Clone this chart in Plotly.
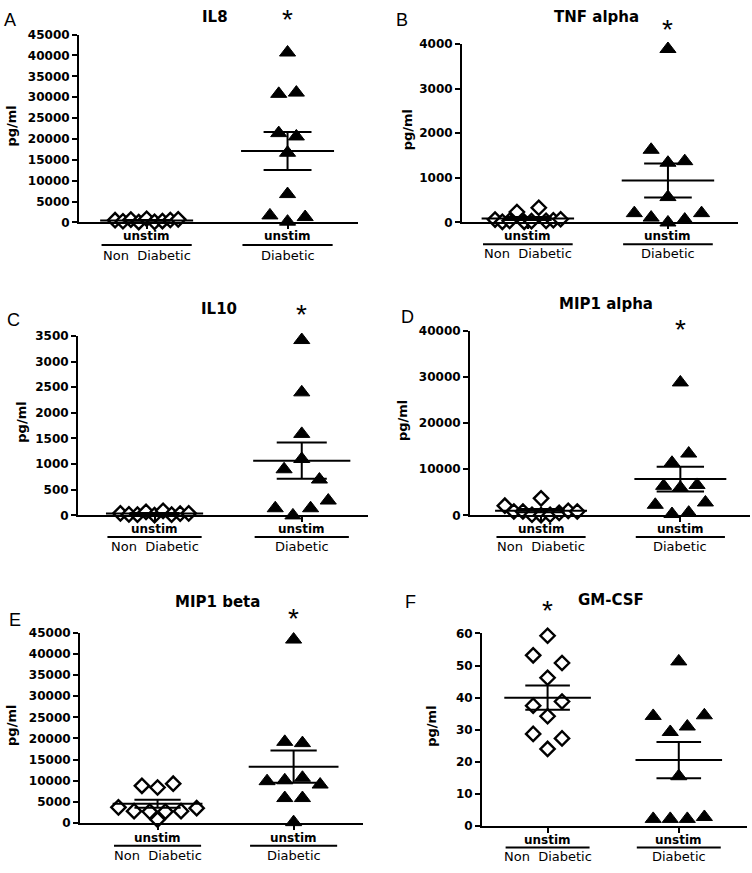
import numpy as np
import plotly.graph_objects as go

# ---------------- data (pg/ml) ----------------
GROUP_LABELS = ["Non\u00a0 Diabetic", "Diabetic"]
STIM_LABEL = "unstim"
PANEL_LETTERS = ["A", "B", "C", "D", "E", "F"]
TITLES = ["IL8", "TNF alpha", "IL10", "MIP1 alpha", "MIP1 beta", "GM-CSF"]
Y_TICKS = [
    list(range(0, 45001, 5000)),
    list(range(0, 4001, 1000)),
    list(range(0, 3501, 500)),
    list(range(0, 40001, 10000)),
    list(range(0, 45001, 5000)),
    list(range(0, 61, 10)),
]
STAR_GROUP = [1, 1, 1, 1, 1, 0]

IL8_NON = [550, 300, 700, 100, 900, 150, 350, 600, 750]
IL8_DIA = [40700, 30800, 31100, 21400, 20600, 16700, 6800, 1700, 200, 1300]
TNF_NON = [66, 15, 37, 235, 15, 30, 330, 37, 50, 73]
TNF_DIA = [3890, 1630, 1340, 1375, 570, 210, 110, 0, 65, 210]
IL10_NON = [40, 20, 15, 70, 5, 90, 15, 35, 40]
IL10_DIA = [3420, 2400, 1590, 900, 1100, 700, 140, 0, 140, 290]
MIP1A_NON = [2100, 850, 850, 150, 3700, 50, 150, 550, 1000, 850]
MIP1A_DIA = [28800, 11400, 13400, 6400, 6000, 6600, 2300, 300, 600, 2800]
MIP1B_NON = [8800, 8400, 9300, 3700, 2800, 2700, 800, 2700, 2800, 3500]
MIP1B_DIA = [43400, 19200, 18900, 9900, 10100, 10700, 9100, 5900, 5900, 200]
GMCSF_NON = [59.3, 53.2, 50.8, 46.2, 37.5, 38.8, 34.2, 28.7, 27.3, 24.0]
GMCSF_DIA = [51.3, 34.3, 29.3, 31.0, 34.5, 15.5, 2.2, 2.2, 2.2, 2.8]

SERIES = [
    (IL8_NON, IL8_DIA),
    (TNF_NON, TNF_DIA),
    (IL10_NON, IL10_DIA),
    (MIP1A_NON, MIP1A_DIA),
    (MIP1B_NON, MIP1B_DIA),
    (GMCSF_NON, GMCSF_DIA),
]

# ---------------- layout / style settings ----------------
W, H = 752, 873
# swarm settings: (row tolerance in data units, spacing in x units) per group
SWARM = [
    ((2000, 0.056), (1500, 0.125)),
    ((400, 0.052), (300, 0.12)),
    ((200, 0.058), (220, 0.12)),
    ((1300, 0.065), (2600, 0.12)),
    ((1000, 0.115), (1500, 0.13)),
    ((2.5, 0.22), (3.5, 0.13)),
]
# pixel boxes for each panel
PANELS = [
    dict(x0=79, x1=358, ytop=28, ybot=219, xr=[-0.48, 1.5], title_y=10, star_y=13, letter=(10, 13), ylab_x=12, lab=(14, 23, 34)),
    dict(x0=462, x1=738, ytop=37.7, ybot=219, xr=[-0.47, 1.5], title_y=10, star_y=23, letter=(402, 13), ylab_x=407, lab=(14, 22, 32)),
    dict(x0=78, x1=368, ytop=334.3, ybot=516.7, xr=[-0.52, 1.45], title_y=307, star_y=313, letter=(13, 318), ylab_x=22, lab=(14, 22, 32)),
    dict(x0=470, x1=750, ytop=329, ybot=516.7, xr=[-0.51, 1.5], title_y=302, star_y=328, letter=(407, 315), ylab_x=402, lab=(14, 22, 32)),
    dict(x0=80, x1=363, ytop=636, ybot=829.3, xr=[-0.57, 1.51], title_y=605, star_y=621, letter=(15, 623), ylab_x=12, lab=(15, 23, 33)),
    dict(x0=482, x1=747, ytop=636.7, ybot=832.3, xr=[-0.50, 1.52], title_y=603, star_y=613, letter=(410, 605), ylab_x=432, lab=(14, 22, 31)),
]
BOLD = "DejaVu Sans"
REG = "DejaVu Sans"
ARIAL = "Liberation Sans"
MEAN_HALF = 0.33
CAP_HALF = 0.17
BAR_HALF = 0.32


def px_x(x):
    return x / W


def px_y(y):
    return 1 - y / H


def swarm_offsets(values, tol, spacing):
    vals = np.asarray(values, dtype=float)
    order = np.argsort(-vals, kind="stable")
    rows, cur = [], [order[0]]
    for prev, idx in zip(order[:-1], order[1:]):
        if vals[prev] - vals[idx] > tol:
            rows.append(cur)
            cur = [idx]
        else:
            cur.append(idx)
    rows.append(cur)
    off = np.zeros(len(vals))
    for r in rows:
        r = sorted(r)
        n = len(r)
        for k, idx in enumerate(r):
            off[idx] = (k - (n - 1) / 2) * spacing
    return off


fig = go.Figure()
annotations = []
shapes = []

for p, (panel, series) in enumerate(zip(PANELS, SERIES)):
    n = p + 1
    xa = "x" if n == 1 else f"x{n}"
    ya = "y" if n == 1 else f"y{n}"
    xkey = "xaxis" if n == 1 else f"xaxis{n}"
    ykey = "yaxis" if n == 1 else f"yaxis{n}"
    ticks = Y_TICKS[p]
    l1, l2, l3 = panel["lab"]

    for g, vals in enumerate(series):
        tol, sp = SWARM[p][g]
        offs = swarm_offsets(vals, tol, sp)
        xs = g + offs
        if g == 0:
            marker = dict(symbol="diamond", size=11, color="white",
                          line=dict(color="black", width=2.4))
        else:
            marker = dict(symbol="triangle-up", size=14, color="black",
                          line=dict(color="black", width=1))
        fig.add_trace(go.Scatter(x=xs, y=vals, mode="markers", marker=marker,
                                 xaxis=xa, yaxis=ya, cliponaxis=False,
                                 showlegend=False, hoverinfo="y"))
        arr = np.asarray(vals, dtype=float)
        m = arr.mean()
        sem = arr.std(ddof=1) / np.sqrt(len(arr))
        lx = [g - MEAN_HALF, g + MEAN_HALF, None,
              g - CAP_HALF, g + CAP_HALF, None,
              g - CAP_HALF, g + CAP_HALF, None,
              g, g]
        ly = [m, m, None, m + sem, m + sem, None, m - sem, m - sem, None,
              m - sem, m + sem]
        fig.add_trace(go.Scatter(x=lx, y=ly, mode="lines",
                                 line=dict(color="black", width=2),
                                 xaxis=xa, yaxis=ya, cliponaxis=False,
                                 showlegend=False, hoverinfo="skip"))

        # category labels below the axis
        annotations.append(dict(x=g, y=px_y(panel["ybot"] + l1), xref=xa, yref="paper",
                                text=STIM_LABEL, showarrow=False,
                                font=dict(family=BOLD, size=12, color="black", weight="bold"),
                                xanchor="center", yanchor="middle"))
        annotations.append(dict(x=g, y=px_y(panel["ybot"] + l3), xref=xa, yref="paper",
                                text=GROUP_LABELS[g], showarrow=False,
                                font=dict(family=REG, size=13, color="black"),
                                xanchor="center", yanchor="middle"))
        shapes.append(dict(type="line", xref=xa, yref="paper",
                           x0=g - BAR_HALF, x1=g + BAR_HALF,
                           y0=px_y(panel["ybot"] + l2), y1=px_y(panel["ybot"] + l2),
                           line=dict(color="black", width=2)))

    fig.layout[xkey] = dict(
        domain=[px_x(panel["x0"]), px_x(panel["x1"])], range=panel["xr"],
        anchor=ya, showline=True, linecolor="black", linewidth=2,
        showgrid=False, zeroline=False, tickmode="array", tickvals=[0, 1],
        showticklabels=False, ticks="outside", ticklen=5, tickwidth=2,
        tickcolor="black", fixedrange=True)
    fig.layout[ykey] = dict(
        domain=[px_y(panel["ybot"]), px_y(panel["ytop"])],
        range=[ticks[0], ticks[-1]], anchor=xa, showline=True,
        linecolor="black", linewidth=2, showgrid=False, zeroline=False,
        tickmode="array", tickvals=ticks, ticktext=[str(t) for t in ticks],
        ticks="outside", ticklen=5, tickwidth=2, tickcolor="black",
        tickfont=dict(family=BOLD, size=12, color="black", weight="bold"),
        fixedrange=True)

    # title
    cx = (panel["x0"] + panel["x1"]) / 2 - 4
    annotations.append(dict(x=px_x(cx), y=px_y(panel["title_y"]), xref="paper", yref="paper",
                            text=TITLES[p], showarrow=False,
                            font=dict(family=BOLD, size=15, color="black", weight="bold"),
                            xanchor="center", yanchor="middle"))
    # panel letter
    lx_, ly_ = panel["letter"]
    annotations.append(dict(x=px_x(lx_), y=px_y(ly_), xref="paper", yref="paper",
                            text=PANEL_LETTERS[p], showarrow=False,
                            font=dict(family=ARIAL, size=18, color="black"),
                            xanchor="center", yanchor="middle"))
    # y-axis title
    annotations.append(dict(x=px_x(panel["ylab_x"]),
                            y=px_y((panel["ytop"] + panel["ybot"]) / 2 - 3),
                            xref="paper", yref="paper", text="pg/ml", textangle=-90,
                            showarrow=False,
                            font=dict(family=BOLD, size=13, color="black", weight="bold"),
                            xanchor="center", yanchor="middle"))
    # significance star
    annotations.append(dict(x=STAR_GROUP[p], y=px_y(panel["star_y"]), xref=xa, yref="paper",
                            text="*", showarrow=False,
                            font=dict(family=ARIAL, size=28, color="black"),
                            xanchor="center", yanchor="middle"))

fig.update_layout(width=W, height=H, margin=dict(l=0, r=0, t=0, b=0),
                  paper_bgcolor="white", plot_bgcolor="white",
                  annotations=annotations, shapes=shapes, showlegend=False)
fig.write_html("out.html", config={"displayModeBar": False},
               post_script="document.body.style.margin='0';document.body.style.overflow='hidden';")
